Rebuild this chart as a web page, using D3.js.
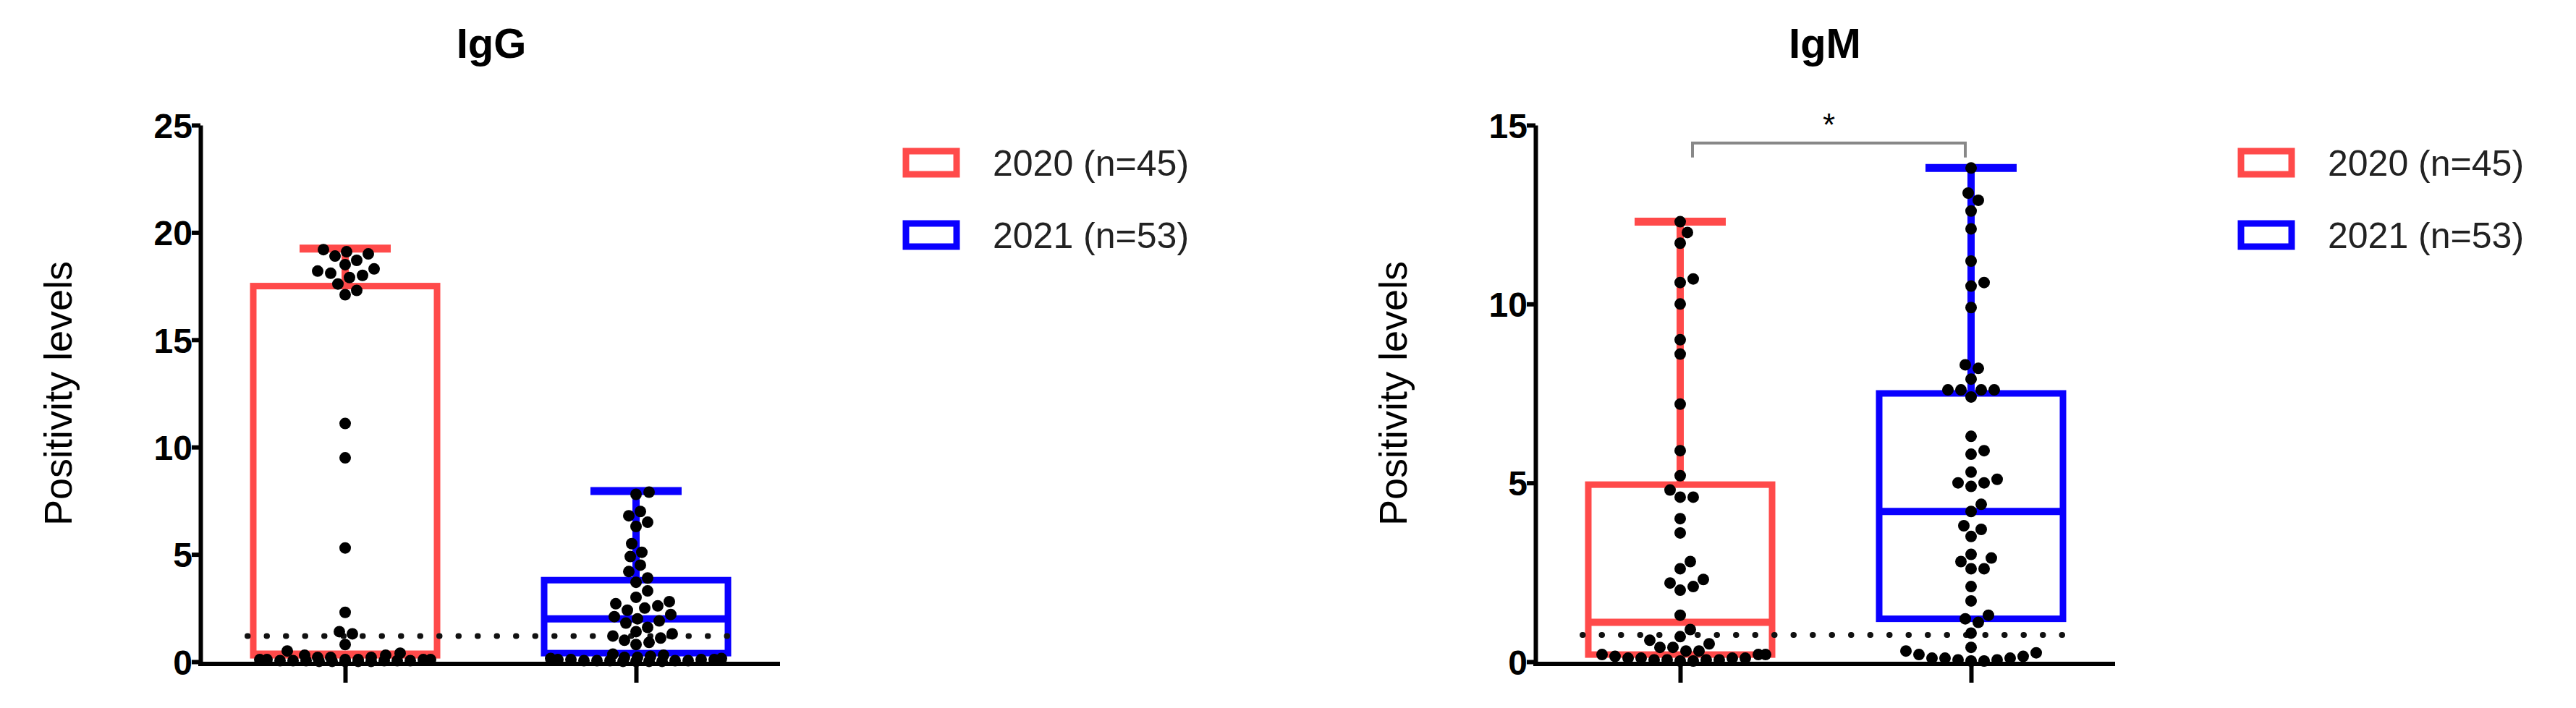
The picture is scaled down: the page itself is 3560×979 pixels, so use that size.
<!DOCTYPE html>
<html><head><meta charset="utf-8">
<script src="https://cdn.jsdelivr.net/npm/d3@7"></script>
<style>body{margin:0;background:#fff}svg{display:block}</style>
</head><body>
<script>
const groups = ["2020 (n=45)", "2021 (n=53)"];
const colors = ["#ff4a4a", "#0a00ff"];
const igg2020 = [19.2,19.1,19.0,18.9,18.7,18.5,18.3,18.2,18.1,18.0,17.9,17.6,17.3,17.1,11.1,9.5,5.3,2.3,1.4,1.3,
  0.8,0.5,0.4,0.3,0.3,0.2,0.2,0.2,0.1,0.1,0.1,0.1,0.1,0.1,0.05,0.05,0.05,0.05,0.05,0.05,0.02,0.02,0.02,0.02,0.02];
const igg2021 = [7.9,7.8,7.0,6.8,6.5,6.3,5.5,5.1,4.9,4.5,4.2,3.9,3.7,3.3,3.0,2.8,2.7,2.6,2.5,2.4,2.2,2.1,2.0,1.9,1.8,1.6,1.4,1.3,1.2,1.1,1.0,0.9,0.8,
  0.35,0.3,0.25,0.2,0.2,0.15,0.15,0.1,0.1,0.1,0.1,0.05,0.05,0.05,0.05,0.05,0.02,0.02,0.02,0.02];
const igm2020 = [12.3,12.0,11.7,10.7,10.6,10.0,9.0,8.6,7.2,5.9,5.2,4.8,4.6,4.6,4.0,3.6,2.8,2.6,2.3,2.2,2.1,2.0,1.3,0.9,0.7,0.6,
  0.5,0.4,0.4,0.3,0.3,0.2,0.2,0.2,0.15,0.1,0.1,0.1,0.1,0.05,0.05,0.05,0.05,0.02,0.02];
const igm2021 = [13.8,13.1,12.9,12.6,12.1,11.2,10.6,10.5,9.9,8.3,8.2,7.9,7.6,7.6,7.6,7.4,7.6,6.3,5.9,5.8,5.3,5.1,5.0,5.0,4.9,4.4,4.2,3.8,3.7,3.5,3.0,2.9,2.8,2.6,2.6,2.1,1.7,1.3,1.2,1.1,0.8,
  0.4,0.3,0.25,0.2,0.15,0.1,0.1,0.1,0.05,0.05,0.02,0.02];
// box stats [q1, median, q3, max]
const iggBox = [[0.3,0.35,17.5,19.25],[0.4,2.0,3.8,7.95]];
const igmBox = [[0.2,1.1,4.95,12.3],[1.2,4.2,7.5,13.8]];
const iggTicks = [0,5,10,15,20,25];
const igmTicks = [0,5,10,15];

const svg = d3.select("body").append("svg").attr("width",3560).attr("height",979);
const font = "Liberation Sans, Arial, sans-serif";

function panel(o){
  const g = svg.append("g");
  const y = d3.scaleLinear().domain([0,o.max]).range([915,173]);
  const x = d3.scalePoint().domain(groups).range([o.ax+200, o.ax+602]);
  g.append("text").attr("x",o.titleX).attr("y",80).attr("text-anchor","middle")
    .attr("font-family",font).attr("font-weight","bold").attr("font-size",58).text(o.title);
  g.append("text").attr("transform",`translate(${o.ax-178},544) rotate(-90)`).attr("text-anchor","middle")
    .attr("font-family",font).attr("font-size",54).text("Positivity levels");
  const bw = 254, cw = 126;
  o.box.forEach((b,i)=>{
    const cx = x(groups[i]), c = colors[i];
    g.append("line").attr("x1",cx).attr("x2",cx).attr("y1",y(b[2])).attr("y2",y(b[3])).attr("stroke",c).attr("stroke-width",10);
    g.append("line").attr("x1",cx-cw/2).attr("x2",cx+cw/2).attr("y1",y(b[3])).attr("y2",y(b[3])).attr("stroke",c).attr("stroke-width",11);
    g.append("rect").attr("x",cx-bw/2).attr("y",y(b[2])).attr("width",bw).attr("height",y(b[0])-y(b[2]))
      .attr("fill","none").attr("stroke",c).attr("stroke-width",9);
    g.append("line").attr("x1",cx-bw/2).attr("x2",cx+bw/2).attr("y1",y(b[1])).attr("y2",y(b[1])).attr("stroke",c).attr("stroke-width",10);
  });
  g.append("line").attr("x1",o.ax+65).attr("x2",o.ax+744).attr("y1",y(o.cut)).attr("y2",y(o.cut))
    .attr("stroke","#111").attr("stroke-width",8).attr("stroke-dasharray","0.5 26").attr("stroke-linecap","round");
  const r = 8, maxOff = 118;
  o.data.forEach((vals,i)=>{
    const cx = x(groups[i]);
    const placed = [];
    vals.slice().sort((a,b)=>a-b).forEach(v=>{
      const py = y(v);
      let best = null, bestScore = Infinity;
      for(let k=0;k<=maxOff;k++){
        const off = (k%2?1:-1)*Math.ceil(k/2)*2;
        if(Math.abs(off)>maxOff) break;
        let score = 0;
        placed.forEach(p=>{const d=Math.hypot(p[0]-(cx+off),p[1]-py); if(d<2*r+1) score += (2*r+1-d);});
        if(score===0){best=off;break;}
        if(score<bestScore){bestScore=score;best=off;}
      }
      placed.push([cx+best,py]);
    });
    g.selectAll(null).data(placed).enter().append("circle")
      .attr("cx",d=>d[0]).attr("cy",d=>d[1]).attr("r",r).attr("fill","#000");
  });
  const ya = g.append("g").attr("transform",`translate(${o.ax},0)`)
    .call(d3.axisLeft(y).tickValues(o.ticks).tickSize(12).tickSizeOuter(0));
  ya.select(".domain").attr("stroke-width",6);
  ya.selectAll(".tick line").attr("stroke-width",6);
  ya.selectAll("text").attr("font-family",font).attr("font-weight","bold").attr("font-size",48).attr("dx","4").attr("dy","0.36em");
  const xa = g.append("g").attr("transform",`translate(0,918)`)
    .call(d3.axisBottom(x).tickSize(26).tickSizeOuter(0).tickFormat(""));
  xa.select(".domain").attr("d",`M${o.ax-3},0H${o.ax+801}`).attr("stroke-width",6);
  xa.selectAll(".tick line").attr("stroke-width",6);
  groups.forEach((gname,i)=>{
    const ly = 225 + i*100;
    g.append("rect").attr("x",o.legX).attr("y",ly-16).attr("width",70).attr("height",32)
      .attr("fill","none").attr("stroke",colors[i]).attr("stroke-width",9);
    g.append("text").attr("x",o.legX+120).attr("y",ly+18).attr("font-family",font).attr("font-size",50)
      .attr("fill","#222").text(gname);
  });
  if(o.sig){
    const x1 = x(groups[0])+17, x2 = x(groups[1])-8, sy = y(14.5);
    g.append("path").attr("d",`M${x1},${sy+20}V${sy}H${x2}V${sy+20}`).attr("fill","none")
      .attr("stroke","#888").attr("stroke-width",4);
    g.append("text").attr("x",(x1+x2)/2).attr("y",sy-10).attr("text-anchor","middle")
      .attr("font-family",font).attr("font-size",44).text("*");
  }
}
panel({ax:277,max:25,ticks:iggTicks,data:[igg2020,igg2021],box:iggBox,cut:1.2,title:"IgG",titleX:679,legX:1252});
panel({ax:2122,max:15,ticks:igmTicks,data:[igm2020,igm2021],box:igmBox,cut:0.75,title:"IgM",titleX:2522,legX:3097,sig:true});
</script>
</body></html>
